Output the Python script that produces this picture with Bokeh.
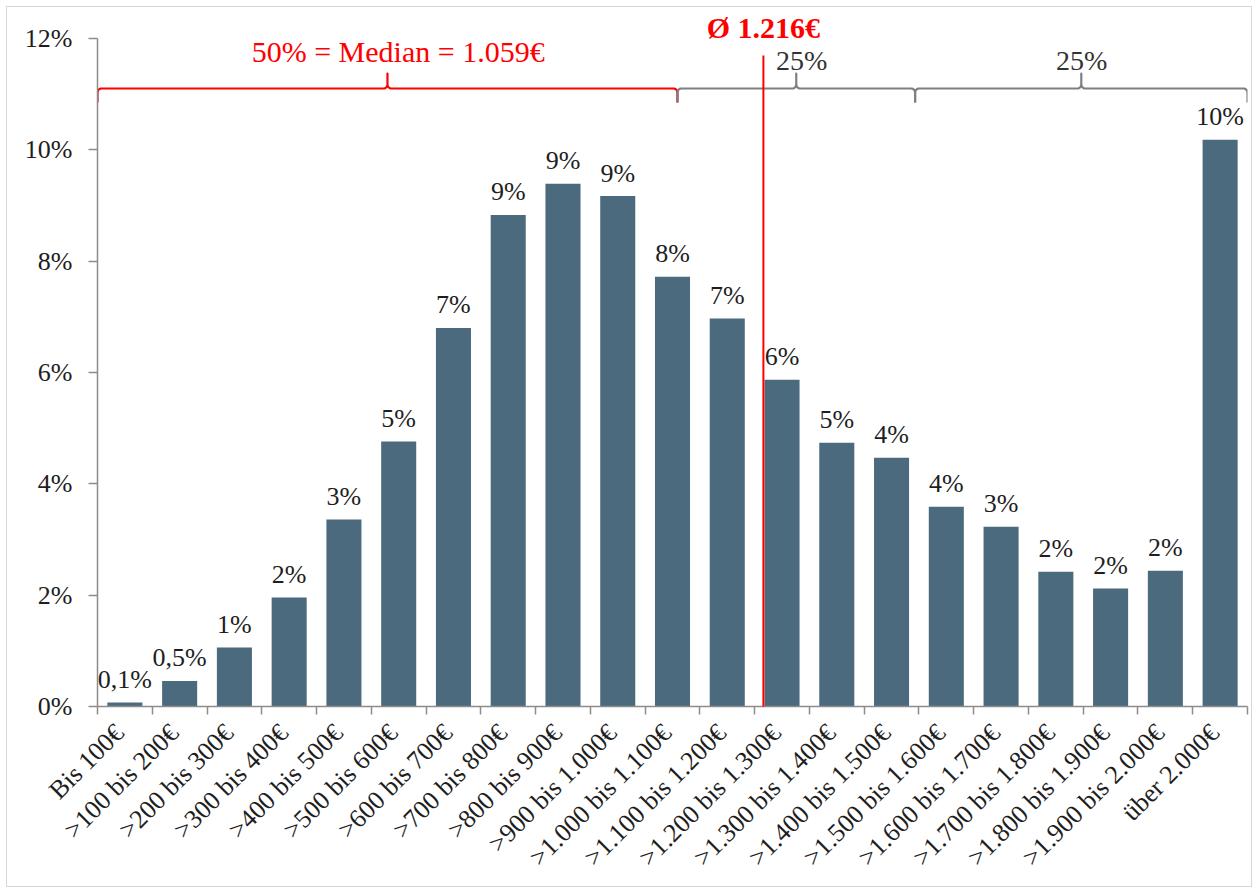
import math

from bokeh.core.properties import value
from bokeh.embed import file_html
from bokeh.models import Arrow, CustomJSTickFormatter, FixedTicker, PrintfTickFormatter, Range1d
from bokeh.plotting import figure
from bokeh.resources import INLINE

# Income bands (100 € steps) and share of households in each band, in percent
categories = [
    "Bis 100€", ">100 bis 200€", ">200 bis 300€", ">300 bis 400€", ">400 bis 500€",
    ">500 bis 600€", ">600 bis 700€", ">700 bis 800€", ">800 bis 900€", ">900 bis 1.000€",
    ">1.000 bis 1.100€", ">1.100 bis 1.200€", ">1.200 bis 1.300€", ">1.300 bis 1.400€",
    ">1.400 bis 1.500€", ">1.500 bis 1.600€", ">1.600 bis 1.700€", ">1.700 bis 1.800€",
    ">1.800 bis 1.900€", ">1.900 bis 2.000€", "über 2.000€",
]
shares = [0.07, 0.46, 1.06, 1.96, 3.36, 4.76, 6.80, 8.83, 9.39, 9.17, 7.72,
          6.97, 5.87, 4.74, 4.47, 3.59, 3.23, 2.42, 2.12, 2.44, 10.18]

y_ticks = [0, 2, 4, 6, 8, 10, 12]

# Distribution statistics in euro
median_eur = 1059
mean_eur = 1216
upper_quartile_eur = 1493
band_eur = 100

median_text = "50% = Median = 1.059€"
mean_text = "Ø 1.216€"
quartile_texts = ["25%", "25%"]


def share_label(v):
    txt = f"{v:.1f}" if v < 1 else f"{v:.0f}"
    return txt.replace(".", ",") + "%"


labels = [share_label(v) for v in shares]
centers = [i + 0.5 for i in range(len(categories))]


def eur_to_x(eur):
    return eur / band_eur


FONT = "Liberation Serif"
BAR = "#4B6A7D"
AXIS = "#8C8C8C"
RED = "#FF0000"
GREY = "#7F7F7F"
TEXT = "#1E1E1E"

FRAME_W = 1150
Y_TOP = 12 + 28 / (668 / 12)
PX_X = FRAME_W / len(categories)
PX_Y = 668 / 12

p = figure(
    width=1246, height=881,
    x_range=Range1d(0, len(categories)), y_range=Range1d(0, Y_TOP),
    output_backend="svg", toolbar_location=None,
    min_border_left=90, min_border_right=6, min_border_top=3, min_border_bottom=182,
)
p.margin = (6, 0, 0, 6)
p.styles = {"border": "1px solid #D6D6D6"}
p.outline_line_color = None
p.xgrid.visible = False
p.ygrid.visible = False

# y axis: 0 % .. 12 %
yax = p.yaxis[0]
yax.ticker = FixedTicker(ticks=y_ticks)
yax.formatter = PrintfTickFormatter(format="%d%%")
yax.bounds = (0, 12)
yax.axis_line_color = AXIS
yax.axis_line_width = 1.5
yax.major_tick_line_color = AXIS
yax.major_tick_line_width = 1.5
yax.major_tick_out = 9
yax.major_tick_in = 0
yax.minor_tick_out = 0
yax.minor_tick_in = 0
yax.major_label_standoff = 16
yax.major_label_text_font = FONT
yax.major_label_text_font_size = "26px"
yax.major_label_text_color = TEXT

# x axis: labels at band centres, tick marks at band boundaries
xax = p.xaxis[0]
xax.ticker = FixedTicker(ticks=[c - 0.1 for c in centers],
                         minor_ticks=list(range(len(categories) + 1)))
xax.formatter = CustomJSTickFormatter(
    args=dict(labels=categories),
    code="const i = Math.floor(tick); return (i >= 0 && i < labels.length) ? labels[i] : '';",
)
xax.major_label_orientation = math.pi / 4
xax.axis_line_color = AXIS
xax.axis_line_width = 1.5
xax.major_tick_out = 0
xax.major_tick_in = 0
xax.minor_tick_line_color = AXIS
xax.minor_tick_line_width = 1.5
xax.minor_tick_out = 8
xax.minor_tick_in = 0
xax.major_label_standoff = 14
xax.major_label_text_font = FONT
xax.major_label_text_font_size = "26px"
xax.major_label_text_color = TEXT

# bars and their value labels
p.vbar(x=centers, top=shares, width=0.64, fill_color=BAR, line_color=None)
p.text(x=centers, y=shares, text=labels, text_font=value(FONT), text_font_size="26px",
       text_color=TEXT, text_align="center", text_baseline="alphabetic", y_offset=-23)


def brace(x0, x1, y, drop=14, rise=15, r=4, n=6):
    """Horizontal curly brace from x0 to x1 at height y (pixel sizes converted to data units)."""
    rx, ry = r / PX_X, r / PX_Y
    dy, uy = drop / PX_Y, rise / PX_Y
    xm = (x0 + x1) / 2

    def arc(cx, cy, a0, a1):
        return [(cx + rx * math.cos(math.radians(a0 + (a1 - a0) * k / n)),
                 cy + ry * math.sin(math.radians(a0 + (a1 - a0) * k / n))) for k in range(n + 1)]

    pts = [(x0, y - dy)]
    pts += arc(x0 + rx, y - ry, 180, 90)
    pts += arc(xm - rx, y + ry, 270, 360)
    pts += [(xm, y + uy), (xm, y + ry)]
    pts += arc(xm + rx, y + ry, 180, 270)
    pts += arc(x1 - rx, y - ry, 90, 0)
    pts += [(x1, y - dy)]
    return [q[0] for q in pts], [q[1] for q in pts]


BRACE_Y = 12 - 50 / PX_Y
median_x = eur_to_x(median_eur)
mean_x = eur_to_x(mean_eur)
q3_x = eur_to_x(upper_quartile_eur)
n_bands = len(categories)

for (a, b), col in [((0, median_x), RED), ((median_x, q3_x), GREY), ((q3_x, n_bands), GREY)]:
    bx, by = brace(a, b, BRACE_Y)
    p.line(bx, by, line_color=col, line_width=2.2, line_join="round")

# texts above the braces
p.text(x=[5.49], y=[12 - 23 / PX_Y], text=[median_text], text_font=value(FONT),
       text_font_size="30px", text_color=RED, text_align="center", text_baseline="alphabetic",
       y_offset=-10)
p.text(x=[12.86, 17.97], y=[12 - 32 / PX_Y] * 2, text=quartile_texts, text_font=value(FONT),
       text_font_size="28px", text_color="#333333", text_align="center", text_baseline="alphabetic",
       y_offset=-10)
p.text(x=[mean_x], y=[12 + 1 / PX_Y], text=[mean_text], text_font=value(FONT),
       text_font_size="30px", text_font_style="bold", text_color=RED,
       text_align="center", text_baseline="alphabetic", y_offset=-10)

# mean marker line, reaching slightly below the x axis
p.add_layout(Arrow(end=None, x_start=mean_x, y_start=12 - 17 / PX_Y,
                   x_end=mean_x, y_end=-21 / PX_Y, line_color=RED, line_width=2))

open("out.html", "w").write(file_html(p, INLINE))
